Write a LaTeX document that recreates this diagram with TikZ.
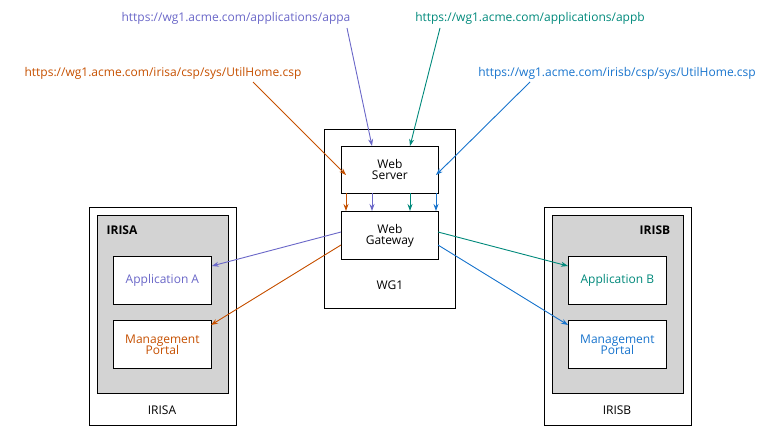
\documentclass[tikz,border=0pt]{standalone}
\usepackage{fontspec}
\setmainfont{Open Sans}
\usetikzlibrary{arrows.meta}
\definecolor{cpur}{HTML}{6A67C8}
\definecolor{cteal}{HTML}{00897B}
\definecolor{corg}{HTML}{C65000}
\definecolor{cblu}{HTML}{1874CD}
\definecolor{gfill}{HTML}{D3D3D3}
\begin{document}
\begin{tikzpicture}[x=1pt,y=-1pt,
  txt/.style={font=\fontsize{12}{14}\selectfont},
  box/.style={draw,fill=white,line width=0.8pt},
  arr/.style={-{Stealth[length=7pt,width=5pt]},line width=0.9pt}]
\useasboundingbox (0,0) rectangle (780,439);
% WG1
\node[box,minimum width=131,minimum height=179,anchor=north west,line width=1.2pt] (wg1) at (324,129) {};
\node[txt] (wg1l) at (390,285) {WG1};
\node[box,minimum width=97,minimum height=47,anchor=north west,align=center,txt] (ws) at (341,146) {Web\\[-3pt]Server};
\node[box,minimum width=97,minimum height=48,anchor=north west,align=center,txt] (gw) at (341,211) {Web\\[-3pt]Gateway};
% IRISA
\node[box,minimum width=147,minimum height=218,anchor=north west,line width=1.2pt] (ia) at (89,207) {};
\node[draw,fill=gfill,minimum width=131,minimum height=178,anchor=north west] (iag) at (97,215) {};
\node[txt,font=\fontsize{12}{14}\selectfont\bfseries] (ial) at (122,230) {IRISA};
\node[txt] (ial2) at (162,410) {IRISA};
\node[box,minimum width=98,minimum height=48,anchor=north west,txt,text=cpur] (appa) at (113,256) {Application A};
\node[box,minimum width=98,minimum height=48,anchor=north west,txt,text=corg,align=center] (mpa) at (113,320) {Management\\[-3pt]Portal};
% IRISB
\node[box,minimum width=147,minimum height=218,anchor=north west,line width=1.2pt] (ib) at (544,207) {};
\node[draw,fill=gfill,minimum width=131,minimum height=178,anchor=north west] (ibg) at (552,215) {};
\node[txt,font=\fontsize{12}{14}\selectfont\bfseries] (ibl) at (655,230) {IRISB};
\node[txt] (ibl2) at (617,410) {IRISB};
\node[box,minimum width=98,minimum height=48,anchor=north west,txt,text=cteal] (appb) at (568,256) {Application B};
\node[box,minimum width=98,minimum height=48,anchor=north west,txt,text=cblu,align=center] (mpb) at (568,320) {Management\\[-3pt]Portal};
% URLs
\node[txt,text=cpur] (ua) at (236,18) {https://wg1.acme.com/applications/appa};
\node[txt,text=cteal] (ub) at (530,18) {https://wg1.acme.com/applications/appb};
\node[txt,text=corg] (uia) at (163,73) {https://wg1.acme.com/irisa/csp/sys/UtilHome.csp};
\node[txt,text=cblu] (uib) at (617,73) {https://wg1.acme.com/irisb/csp/sys/UtilHome.csp};
% coordinates
\coordinate (pa1) at (347,28); \coordinate (pa2) at (372,146);
\coordinate (pb1) at (440,28); \coordinate (pb2) at (410,146);
\coordinate (po1) at (253,82); \coordinate (po2) at (346,175);
\coordinate (pu1) at (530,82); \coordinate (pu2) at (436,175);
\draw[arr,cpur] (pa1) -- (pa2);
\draw[arr,cteal] (pb1) -- (pb2);
\draw[arr,corg] (po1) -- (po2);
\draw[arr,cblu] (pu1) -- (pu2);
\foreach \x/\c in {346/corg,372/cpur,410/cteal,436/cblu}
  \draw[arr,\c] (\x,193) -- (\x,211);
\draw[arr,cpur] (341,232) -- (appa.east |- 0,266);
\draw[arr,corg] (341,245) -- (211,325);
\draw[arr,cteal] (438,232) -- (568,266);
\draw[arr,cblu] (438,245) -- (568,325);
\end{tikzpicture}
\end{document}
